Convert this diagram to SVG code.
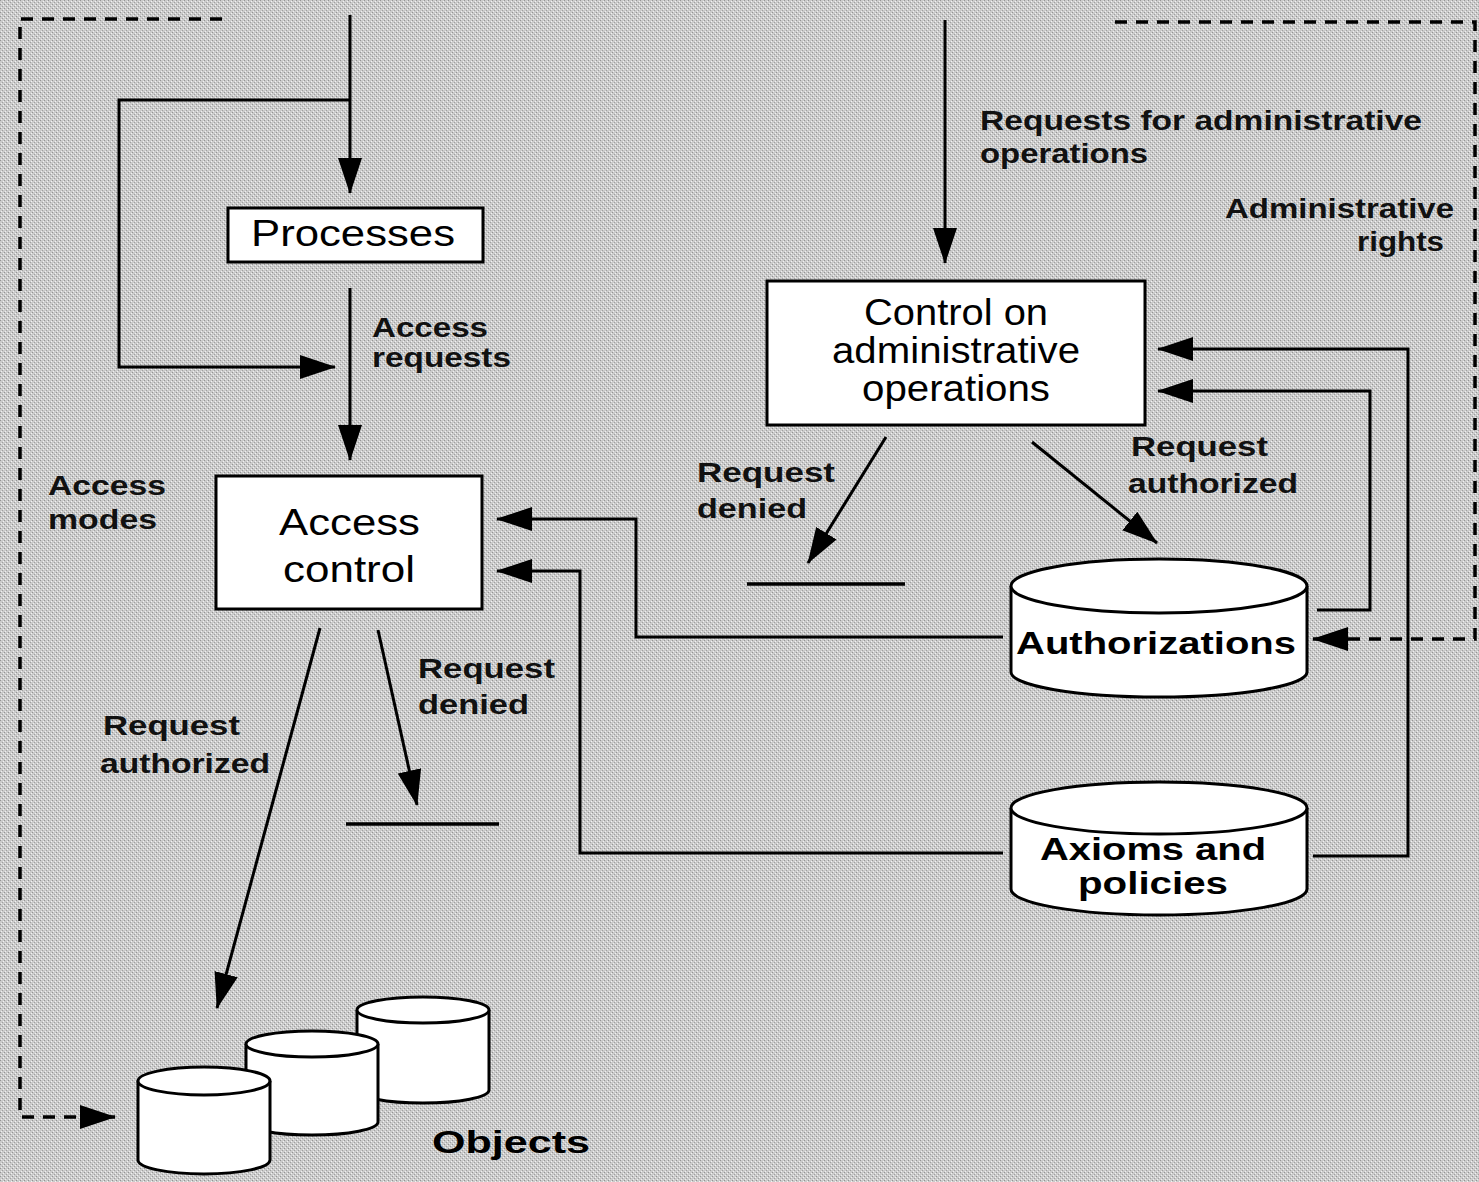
<svg xmlns="http://www.w3.org/2000/svg" width="1479" height="1182" viewBox="0 0 1479 1182">
  <defs>
    <!-- halftone-like grey paper -->
    <pattern id="grain" width="4" height="4" patternUnits="userSpaceOnUse">
      <rect width="4" height="4" fill="#cbcbcb"/>
      <rect x="0" y="0" width="1" height="1" fill="#949494"/>
      <rect x="2" y="2" width="1" height="1" fill="#a0a0a0"/>
      <rect x="1" y="3" width="1" height="1" fill="#efefef"/>
      <rect x="3" y="1" width="1" height="1" fill="#f2f2f2"/>
    </pattern>
    <marker id="arrow" viewBox="0 0 36 24" refX="35" refY="12" markerWidth="36" markerHeight="24" markerUnits="userSpaceOnUse" orient="auto">
      <path d="M0,0 L36,12 L0,24 z" fill="#000"/>
    </marker>
  </defs>
  <style>
    .box { fill: #fff; stroke: #000; stroke-width: 3; }
    .cyl { fill: #fff; stroke: #000; stroke-width: 3; }
    .link { fill: none; stroke: #000; stroke-width: 3; }
    .dash { fill: none; stroke: #000; stroke-width: 3.5; stroke-dasharray: 12 9; }
    .bar { stroke: #000; stroke-width: 3.5; }
    text { font-family: "Liberation Sans", Arial, sans-serif; }
    .node { font-size: 36px; fill: #000; }
    .lbl { font-size: 28px; font-weight: bold; fill: #111; }
    .db { font-size: 32px; font-weight: bold; fill: #000; }
  </style>

  <rect width="1479" height="1182" fill="url(#grain)"/>

  <!-- connectors -->
  <g id="connectors">
    <path class="link" d="M350,15 L350,193" marker-end="url(#arrow)"/>
    <path class="link" d="M350,100 L119,100 L119,367 L335,367" marker-end="url(#arrow)"/>
    <path class="link" d="M350,288 L350,460" marker-end="url(#arrow)"/>
    <path class="link" d="M320,628 L217,1008" marker-end="url(#arrow)"/>
    <path class="link" d="M378,630 L417,805" marker-end="url(#arrow)"/>
    <line class="bar" x1="346" y1="824" x2="499" y2="824"/>
    <path class="link" d="M945,20 L945,263" marker-end="url(#arrow)"/>
    <path class="link" d="M886,437 L808,563" marker-end="url(#arrow)"/>
    <line class="bar" x1="747" y1="584" x2="905" y2="584"/>
    <path class="link" d="M1032,442 L1157,543" marker-end="url(#arrow)"/>
    <path class="link" d="M1313,856 L1408,856 L1408,349 L1158,349" marker-end="url(#arrow)"/>
    <path class="link" d="M1317,610 L1370,610 L1370,391 L1158,391" marker-end="url(#arrow)"/>
    <path class="link" d="M1003,637 L636,637 L636,519 L497,519" marker-end="url(#arrow)"/>
    <path class="link" d="M1003,853 L580,853 L580,571 L497,571" marker-end="url(#arrow)"/>
    <path class="dash" d="M222,19 L20,19 L20,1117 L115,1117" marker-end="url(#arrow)"/>
    <path class="dash" d="M1115,22 L1475,22 L1475,639 L1313,639" marker-end="url(#arrow)"/>
  </g>

  <!-- free labels -->
  <g id="labels">
    <text class="lbl" x="372" y="337" textLength="116" lengthAdjust="spacingAndGlyphs">Access</text>
    <text class="lbl" x="372" y="367" textLength="139" lengthAdjust="spacingAndGlyphs">requests</text>
    <text class="lbl" x="48" y="495" textLength="118" lengthAdjust="spacingAndGlyphs">Access</text>
    <text class="lbl" x="48" y="529" textLength="109" lengthAdjust="spacingAndGlyphs">modes</text>
    <text class="lbl" x="418" y="678" textLength="137" lengthAdjust="spacingAndGlyphs">Request</text>
    <text class="lbl" x="418" y="714" textLength="111" lengthAdjust="spacingAndGlyphs">denied</text>
    <text class="lbl" x="103" y="735" textLength="137" lengthAdjust="spacingAndGlyphs">Request</text>
    <text class="lbl" x="100" y="773" textLength="170" lengthAdjust="spacingAndGlyphs">authorized</text>
    <text class="lbl" x="980" y="130" textLength="442" lengthAdjust="spacingAndGlyphs">Requests for administrative</text>
    <text class="lbl" x="980" y="163" textLength="168" lengthAdjust="spacingAndGlyphs">operations</text>
    <text class="lbl" x="1225" y="218" textLength="229" lengthAdjust="spacingAndGlyphs">Administrative</text>
    <text class="lbl" x="1357" y="251" textLength="87" lengthAdjust="spacingAndGlyphs">rights</text>
    <text class="lbl" x="697" y="482" textLength="138" lengthAdjust="spacingAndGlyphs">Request</text>
    <text class="lbl" x="697" y="518" textLength="110" lengthAdjust="spacingAndGlyphs">denied</text>
    <text class="lbl" x="1131" y="456" textLength="137" lengthAdjust="spacingAndGlyphs">Request</text>
    <text class="lbl" x="1128" y="493" textLength="170" lengthAdjust="spacingAndGlyphs">authorized</text>
  </g>

  <g id="processes">
    <rect class="box" x="228" y="208" width="255" height="54"/>
    <text class="node" x="251" y="246" textLength="204" lengthAdjust="spacingAndGlyphs">Processes</text>
  </g>

  <g id="access-control">
    <rect class="box" x="216" y="476" width="266" height="133"/>
    <text class="node" x="279" y="535" textLength="141" lengthAdjust="spacingAndGlyphs">Access</text>
    <text class="node" x="283" y="582" textLength="132" lengthAdjust="spacingAndGlyphs">control</text>
  </g>

  <g id="control-admin">
    <rect class="box" x="767" y="281" width="378" height="144"/>
    <text class="node" x="864" y="325" textLength="184" lengthAdjust="spacingAndGlyphs" font-size="29">Control on</text>
    <text class="node" x="832" y="363" textLength="248" lengthAdjust="spacingAndGlyphs" font-size="29">administrative</text>
    <text class="node" x="862" y="401" textLength="188" lengthAdjust="spacingAndGlyphs" font-size="29">operations</text>
  </g>

  <g id="authorizations">
    <path class="cyl" d="M1011,586 L1011,672 A148,25 0 0 0 1307,672 L1307,586"/>
    <ellipse class="cyl" cx="1159" cy="586" rx="148" ry="27"/>
    <text class="db" x="1016" y="654" textLength="280" lengthAdjust="spacingAndGlyphs">Authorizations</text>
  </g>

  <g id="axioms">
    <path class="cyl" d="M1011,808 L1011,889 A148,26 0 0 0 1307,889 L1307,808"/>
    <ellipse class="cyl" cx="1159" cy="808" rx="148" ry="26"/>
    <text class="db" x="1040" y="860" textLength="226" lengthAdjust="spacingAndGlyphs" font-size="30">Axioms and</text>
    <text class="db" x="1078" y="894" textLength="150" lengthAdjust="spacingAndGlyphs" font-size="30">policies</text>
  </g>

  <g id="objects">
    <path class="cyl" d="M357,1010 L357,1090 A66,13 0 0 0 489,1090 L489,1010"/>
    <ellipse class="cyl" cx="423" cy="1010" rx="66" ry="13"/>
    <path class="cyl" d="M246,1044 L246,1122 A66,13 0 0 0 378,1122 L378,1044"/>
    <ellipse class="cyl" cx="312" cy="1044" rx="66" ry="13"/>
    <path class="cyl" d="M138,1081 L138,1160 A66,14 0 0 0 270,1160 L270,1081"/>
    <ellipse class="cyl" cx="204" cy="1081" rx="66" ry="14"/>
    <text class="db" x="432" y="1153" textLength="158" lengthAdjust="spacingAndGlyphs">Objects</text>
  </g>
</svg>
